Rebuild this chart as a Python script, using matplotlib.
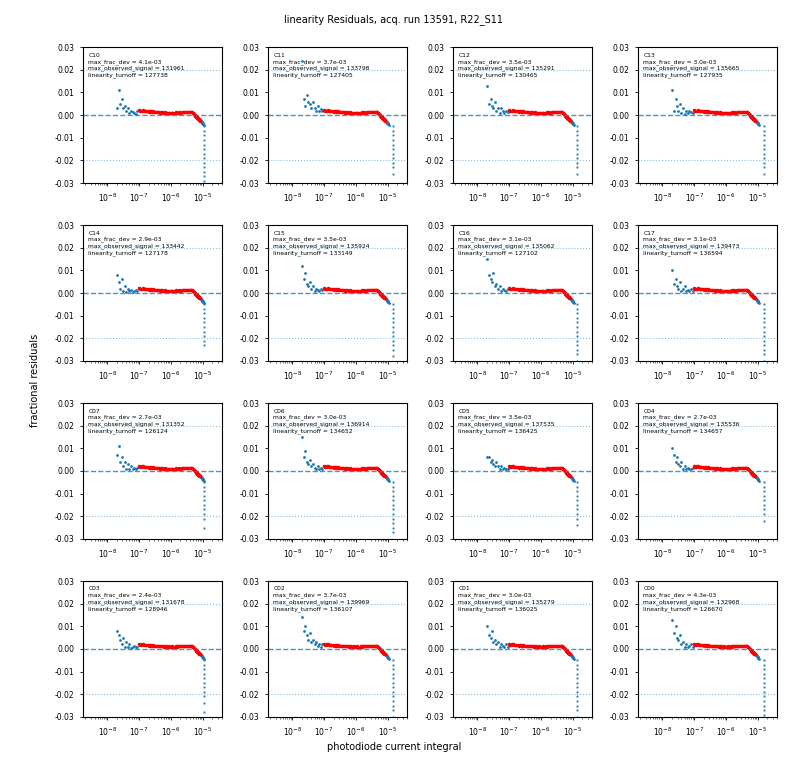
import matplotlib
matplotlib.use("Agg")
import matplotlib.pyplot as plt

TITLE = "linearity Residuals, acq. run 13591, R22_S11"

AMPS = ["C10", "C11", "C12", "C13", "C14", "C15", "C16", "C17",
        "C07", "C06", "C05", "C04", "C03", "C02", "C01", "C00"]
MAX_FRAC_DEV = [4.1e-3, 3.7e-3, 3.5e-3, 3.0e-3, 2.9e-3, 3.5e-3, 3.1e-3, 3.1e-3,
                2.7e-3, 3.0e-3, 3.5e-3, 2.7e-3, 2.4e-3, 3.7e-3, 3.0e-3, 4.3e-3]
MAX_SIGNAL = [131961, 133798, 135291, 135665, 133442, 135924, 135062, 139473,
              131352, 136914, 137535, 135536, 131678, 139969, 135279, 132968]
TURNOFF = [127738, 127405, 130465, 127935, 127178, 133149, 127102, 136594,
           126124, 134652, 136425, 134657, 128946, 136107, 136025, 126670]

# low flux points (blue, outside the fit range)
LOW_FLUX = [2.0e-8, 2.3e-8, 2.6e-8, 2.9e-8, 3.2e-8, 3.6e-8, 4.0e-8,
            4.5e-8, 5.0e-8, 5.6e-8, 6.3e-8, 7.0e-8, 7.9e-8, 8.9e-8]
LOW_RESID = [
    [0.003, 0.011, 0.005, 0.007, 0.003, 0.004, 0.002, 0.003, 0.001, 0.002, 0.0015, 0.001, 0.0005, 0.002],
    [0.024, 0.007, 0.004, 0.009, 0.006, 0.005, 0.003, 0.006, 0.003, 0.002, 0.004, 0.002, 0.0025, 0.002],
    [0.013, 0.005, 0.007, 0.004, 0.003, 0.006, 0.002, 0.003, 0.001, 0.003, 0.002, 0.001, 0.002, 0.0015],
    [0.011, 0.002, 0.007, 0.004, 0.002, 0.005, 0.001, 0.003, 0.0005, 0.002, 0.001, 0.002, 0.0015, 0.001],
    [0.008, 0.005, 0.002, 0.006, 0.001, 0.003, 0.0005, 0.002, 0.001, 0.0015, 0.0005, 0.001, 0.0015, 0.001],
    [0.012, 0.006, 0.009, 0.004, 0.003, 0.005, 0.002, 0.003, 0.001, 0.002, 0.0015, 0.001, 0.002, 0.0015],
    [0.015, 0.008, 0.006, 0.005, 0.009, 0.003, 0.004, 0.002, 0.003, 0.001, 0.002, 0.0015, 0.001, 0.002],
    [0.010, 0.004, 0.006, 0.003, 0.002, 0.005, 0.001, 0.002, 0.003, 0.001, 0.0015, 0.001, 0.002, 0.001],
    [0.007, 0.011, 0.004, 0.006, 0.002, 0.004, 0.001, 0.003, 0.001, 0.002, 0.001, 0.0015, 0.001, 0.0015],
    [0.015, 0.006, 0.009, 0.004, 0.003, 0.005, 0.002, 0.003, 0.0015, 0.001, 0.002, 0.001, 0.0015, 0.001],
    [0.006, 0.006, 0.004, 0.005, 0.003, 0.002, 0.004, 0.002, 0.001, 0.002, 0.001, 0.0015, 0.001, 0.001],
    [0.010, 0.007, 0.004, 0.006, 0.003, 0.002, 0.004, 0.001, 0.002, 0.001, 0.0015, 0.001, 0.001, 0.0015],
    [0.008, 0.006, 0.004, 0.002, 0.005, 0.001, 0.003, 0.001, 0.002, 0.0005, 0.001, 0.0015, 0.001, 0.001],
    [0.014, 0.008, 0.010, 0.006, 0.004, 0.007, 0.003, 0.004, 0.002, 0.003, 0.0015, 0.002, 0.001, 0.002],
    [0.010, 0.006, 0.005, 0.008, 0.003, 0.004, 0.002, 0.003, 0.001, 0.002, 0.0015, 0.001, 0.002, 0.001],
    [0.013, 0.007, 0.010, 0.005, 0.004, 0.006, 0.002, 0.003, 0.001, 0.002, 0.001, 0.0015, 0.002, 0.001],
]

# fit range points (red)
MID_FLUX = [1.0e-7, 1.08e-7, 1.15e-7, 1.22e-7, 1.3e-7, 1.4e-7, 1.5e-7, 1.6e-7,
            1.7e-7, 1.85e-7, 2.0e-7, 2.15e-7, 2.3e-7, 2.45e-7, 2.6e-7, 2.8e-7,
            3.0e-7, 3.25e-7, 3.5e-7, 3.75e-7, 4.0e-7, 4.3e-7, 4.6e-7, 5.0e-7,
            5.3e-7, 5.7e-7, 6.1e-7, 6.5e-7, 7.0e-7, 7.5e-7, 8.0e-7, 8.6e-7,
            9.2e-7, 9.8e-7, 1.05e-6, 1.12e-6, 1.2e-6, 1.3e-6, 1.4e-6, 1.5e-6,
            1.6e-6, 1.72e-6, 1.85e-6, 1.98e-6, 2.1e-6, 2.25e-6, 2.4e-6, 2.6e-6,
            2.8e-6, 3.0e-6, 3.2e-6, 3.45e-6, 3.7e-6, 3.95e-6, 4.2e-6, 4.4e-6,
            4.6e-6, 4.8e-6, 5.0e-6, 5.2e-6, 5.4e-6, 5.6e-6, 5.8e-6, 6.0e-6,
            6.2e-6, 6.4e-6, 6.6e-6, 6.8e-6, 7.0e-6, 7.2e-6, 7.4e-6, 7.6e-6,
            7.8e-6, 8.0e-6, 8.2e-6]
MID_RESID = [0.0022, 0.0019, 0.0018, 0.0020, 0.0021, 0.0017, 0.0016, 0.0018,
             0.0019, 0.0016, 0.0015, 0.0017, 0.0017, 0.0014, 0.0014, 0.0016,
             0.0015, 0.0013, 0.0012, 0.0014, 0.0014, 0.0012, 0.0011, 0.0013,
             0.0012, 0.0011, 0.0010, 0.0012, 0.0011, 0.0010, 0.0009, 0.0011,
             0.0010, 0.0009, 0.0009, 0.0011, 0.0010, 0.0010, 0.0011, 0.0012,
             0.0010, 0.0011, 0.0012, 0.0011, 0.0011, 0.0013, 0.0013, 0.0012,
             0.0012, 0.0014, 0.0014, 0.0013, 0.0013, 0.0015, 0.0015, 0.0014,
             0.0012, 0.0010, 0.0008, 0.0005, 0.0003, 0.0000, -0.0002, -0.0005,
             -0.0007, -0.0009, -0.0011, -0.0013, -0.0015, -0.0016, -0.0018, -0.0019,
             -0.0021, -0.0023, -0.0024]

# blue cluster just past the turnoff
HIGH_FLUX = [8.6e-6, 8.8e-6, 9.0e-6, 9.2e-6, 9.4e-6, 9.6e-6, 9.8e-6, 1.0e-5,
             1.02e-5, 1.04e-5, 1.06e-5]
HIGH_RESID = [-0.0025, -0.0027, -0.0028, -0.0030, -0.0031, -0.0033, -0.0034,
              -0.0036, -0.0038, -0.0041, -0.0045]

# saturation tail
SAT_FLUX = [1.10e-5, 1.5e-5, 1.35e-5, 1.6e-5, 1.10e-5, 1.5e-5, 1.35e-5, 1.6e-5,
            1.10e-5, 1.5e-5, 1.35e-5, 1.6e-5, 1.10e-5, 1.5e-5, 1.35e-5, 1.6e-5]
TAIL_RESID = [
    [-0.005, -0.007, -0.009, -0.011, -0.013, -0.015, -0.017, -0.019, -0.021, -0.023, -0.025, -0.027, -0.029],
    [-0.005, -0.007, -0.009, -0.011, -0.013, -0.015, -0.017, -0.019, -0.021, -0.023, -0.026],
    [-0.005, -0.007, -0.009, -0.011, -0.013, -0.015, -0.017, -0.019, -0.021, -0.023, -0.026],
    [-0.005, -0.007, -0.009, -0.011, -0.013, -0.015, -0.017, -0.019, -0.021, -0.023, -0.026],
    [-0.005, -0.007, -0.009, -0.011, -0.013, -0.015, -0.017, -0.019, -0.021, -0.023],
    [-0.005, -0.007, -0.009, -0.011, -0.013, -0.015, -0.017, -0.019, -0.021, -0.023, -0.025, -0.028],
    [-0.005, -0.007, -0.009, -0.011, -0.013, -0.015, -0.017, -0.019, -0.021, -0.023, -0.025, -0.027, -0.030],
    [-0.005, -0.007, -0.009, -0.011, -0.013, -0.015, -0.017, -0.019, -0.021, -0.023, -0.025, -0.027, -0.030],
    [-0.005, -0.007, -0.009, -0.011, -0.013, -0.015, -0.017, -0.019, -0.021, -0.025],
    [-0.005, -0.007, -0.009, -0.011, -0.013, -0.015, -0.017, -0.019, -0.021, -0.023, -0.025, -0.027],
    [-0.005, -0.007, -0.009, -0.011, -0.013, -0.015, -0.017, -0.019, -0.021, -0.024],
    [-0.005, -0.007, -0.009, -0.011, -0.013, -0.015, -0.017, -0.019, -0.022],
    [-0.005, -0.007, -0.009, -0.011, -0.013, -0.015, -0.017, -0.019, -0.021, -0.024, -0.028],
    [-0.005, -0.007, -0.009, -0.011, -0.013, -0.015, -0.017, -0.019, -0.021, -0.023, -0.025, -0.027, -0.030],
    [-0.005, -0.007, -0.009, -0.011, -0.013, -0.015, -0.017, -0.019, -0.021, -0.023, -0.025, -0.027, -0.030],
    [-0.005, -0.007, -0.009, -0.011, -0.013, -0.015, -0.017, -0.019, -0.021, -0.023, -0.025, -0.027, -0.029],
]


def main() -> None:
    fig, axes = plt.subplots(4, 4, figsize=(7.88, 7.61), dpi=100)
    fig.subplots_adjust(left=0.105, right=0.986, top=0.938, bottom=0.058,
                        wspace=0.33, hspace=0.31)

    for i, ax in enumerate(axes.flat):
        xs = LOW_FLUX + MID_FLUX + HIGH_FLUX
        ys = LOW_RESID[i] + MID_RESID + HIGH_RESID
        ax.plot(xs, ys, ".", color="C0", markersize=2.0)
        ax.plot([SAT_FLUX[i]] * len(TAIL_RESID[i]), TAIL_RESID[i], ".",
                color="C0", markersize=1.4, alpha=0.8)
        ax.plot(MID_FLUX, MID_RESID, ".", color="red", markersize=3.0)

        ax.axhline(0, color="C0", linestyle="--", linewidth=1.0, alpha=0.8)
        ax.axhline(0.02, color="C0", linestyle=":", linewidth=0.8, alpha=0.5)
        ax.axhline(-0.02, color="C0", linestyle=":", linewidth=0.8, alpha=0.5)

        ax.set_xscale("log")
        ax.set_xlim(1.7e-9, 4e-5)
        ax.set_ylim(-0.03, 0.03)
        ax.set_yticks([-0.03, -0.02, -0.01, 0.0, 0.01, 0.02, 0.03])
        ax.set_xticks([1e-8, 1e-7, 1e-6, 1e-5])
        ax.tick_params(labelsize=5.5, length=2.5, width=0.6)
        ax.tick_params(which="minor", length=1.5, width=0.4)
        ax.yaxis.set_major_formatter(plt.FormatStrFormatter("%.2f"))

        text = (f"{AMPS[i]}\n"
                f"max_frac_dev = {MAX_FRAC_DEV[i]:.1e}\n"
                f"max_observed_signal = {MAX_SIGNAL[i]}\n"
                f"linearity_turnoff = {TURNOFF[i]}")
        ax.text(0.04, 0.96, text, transform=ax.transAxes, fontsize=4.3,
                va="top", ha="left", linespacing=1.3)

    fig.suptitle(TITLE, fontsize=7, y=0.982)
    fig.supxlabel("photodiode current integral", fontsize=7, y=0.012)
    fig.supylabel("fractional residuals", fontsize=7, x=0.038)

    fig.savefig("out.png", dpi=100)
    plt.close(fig)


if __name__ == "__main__":
    main()
